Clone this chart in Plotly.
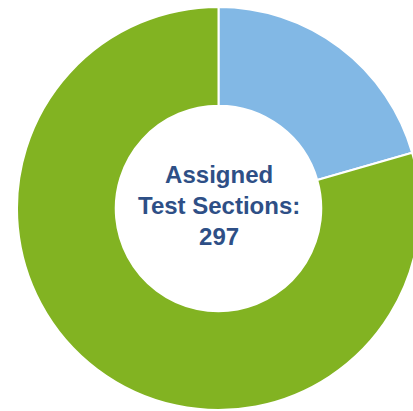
import plotly.graph_objects as go

labels = ["Completed", "Remaining"]
values = [61, 236]
colors = ["#82B8E5", "#82B322"]
total_label = "Assigned<br>Test Sections:<br>297"

fig = go.Figure(go.Pie(
    labels=labels,
    values=values,
    hole=0.51,
    sort=False,
    direction="clockwise",
    rotation=0,
    marker=dict(colors=colors, line=dict(color="white", width=2)),
    textinfo="none",
    hoverinfo="label+value",
    domain=dict(x=[0, 1], y=[0, 1]),
))

fig.update_layout(
    width=422,
    height=411,
    margin=dict(l=17, r=2, t=7, b=1),
    showlegend=False,
    paper_bgcolor="white",
    annotations=[dict(
        text="<b>" + total_label + "</b>",
        x=0.5, y=0.5, xref="paper", yref="paper",
        yshift=3,
        showarrow=False,
        font=dict(family="Liberation Sans, Arial, sans-serif", size=24, color="#2E4F86"),
        align="center",
    )],
)

fig.write_html(
    "out.html",
    config={"displayModeBar": False},
    post_script="document.body.style.margin='0';document.body.style.overflow='hidden';document.documentElement.style.overflow='hidden';",
)
